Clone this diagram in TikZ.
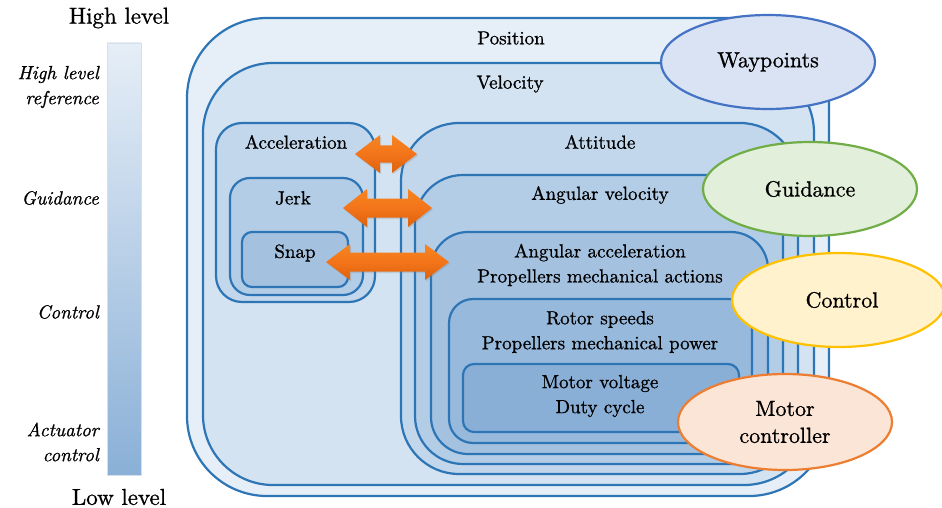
\documentclass[tikz,border=0pt]{standalone}
\usepackage{fontspec}
% the 10pt design of Latin Modern, scaled up and slightly emboldened
\setmainfont{lmroman10}[Extension=.otf, UprightFont=*-regular, ItalicFont=*-italic,
  BoldFont=*-bold, FakeBold=0.9]
\usetikzlibrary{shapes.geometric,shadows,calc}

% palette
\definecolor{edgeblue}{HTML}{2E75B6}
\definecolor{fPos}{HTML}{E6EFF8}
\definecolor{fVel}{HTML}{D3E3F1}
\definecolor{fL1}{HTML}{C2D7EC}
\definecolor{fL2}{HTML}{B3CDE6}
\definecolor{fL3}{HTML}{A4C2E0}
\definecolor{fL4}{HTML}{97B9DC}
\definecolor{fL5}{HTML}{8AAFD7}
\definecolor{barTop}{HTML}{E6EEF7}
\definecolor{barBot}{HTML}{8AB0D7}
\definecolor{barEdge}{HTML}{D5DFEA}
\definecolor{wayFill}{HTML}{DAE3F3}
\definecolor{wayEdge}{HTML}{4472C4}
\definecolor{guiFill}{HTML}{E2EFDA}
\definecolor{guiEdge}{HTML}{70AD47}
\definecolor{conFill}{HTML}{FFF2CC}
\definecolor{conEdge}{HTML}{FFC000}
\definecolor{motFill}{HTML}{FBE5D6}
\definecolor{motEdge}{HTML}{ED7D31}
\definecolor{orTop}{HTML}{F7861F}
\definecolor{orMid}{HTML}{F3741A}
\definecolor{orBot}{HTML}{DC620C}

% double-headed block arrow between two tip coordinates
% #1 left tip, #2 right tip, #3 head half-height, #4 shaft half-height, #5 head length
\newcommand{\orangearrow}[5]{%
  \path[top color=orTop, bottom color=orBot, middle color=orMid,
        drop shadow={opacity=0.25, shadow xshift=1pt, shadow yshift=-1.5pt}]
    (#1) -- ($(#1)+(#5,-#3)$) -- ($(#1)+(#5,-#4)$) -- ($(#2)+(-#5,-#4)$)
    -- ($(#2)+(-#5,-#3)$) -- (#2) -- ($(#2)+(-#5,#3)$) -- ($(#2)+(-#5,#4)$)
    -- ($(#1)+(#5,#4)$) -- ($(#1)+(#5,#3)$) -- cycle;}

\begin{document}
\begin{tikzpicture}[x=1pt,y=-1pt,
  layer/.style={draw=edgeblue, line width=2.2pt, inner sep=0pt, outer sep=0pt},
  lbl/.style={font=\fontsize{19}{25}\selectfont, inner sep=0pt, align=center},
  side/.style={font=\fontsize{19}{25}\selectfont\itshape, inner sep=0pt, align=right, anchor=east},
  endlbl/.style={font=\fontsize{23}{28}\selectfont, inner sep=0pt},
  bubble/.style={ellipse, line width=2.2pt, inner sep=0pt, minimum width=214pt,
                 minimum height=94pt, font=\fontsize{22}{27}\selectfont, align=center}]
\useasboundingbox (0,0) rectangle (942,508);

% level scale on the left
\node[endlbl] (hi) at (119,18) {High level};
\node[endlbl] (lo) at (119,497) {Low level};
\shade[top color=barTop, bottom color=barBot] (107,43) rectangle (141,475);
\draw[barEdge, line width=0.8pt] (107,43) rectangle (141,475);
\node[side] (sHigh) at (99,87) {High level\\reference};
\node[side] (sGui) at (99,198) {Guidance};
\node[side] (sCon) at (99,312) {Control};
\node[side] (sAct) at (99,442) {Actuator\\control};

% nested state boxes
\node[layer, fill=fPos, minimum width=642pt, minimum height=478pt, rounded corners=80pt] (position) at (508,257) {};
\node[layer, fill=fVel, minimum width=611pt, minimum height=422pt, rounded corners=70pt] (velocity) at (508.5,274) {};
\node[layer, fill=fL1, minimum width=159pt, minimum height=179pt, rounded corners=26pt] (accel) at (295.5,212.5) {};
\node[layer, fill=fL2, minimum width=133pt, minimum height=117pt, rounded corners=20pt] (jerk) at (296.5,236.5) {};
\node[layer, fill=fL3, minimum width=106pt, minimum height=55pt, rounded corners=10pt] (snap) at (295,259.5) {};
\node[layer, fill=fL1, minimum width=397pt, minimum height=351pt, rounded corners=58pt] (attitude) at (599.5,298.5) {};
\node[layer, fill=fL2, minimum width=368pt, minimum height=289pt, rounded corners=48pt] (angvel) at (599,319.5) {};
\node[layer, fill=fL3, minimum width=337pt, minimum height=222pt, rounded corners=37pt] (angacc) at (599.5,343) {};
\node[layer, fill=fL4, minimum width=303pt, minimum height=144pt, rounded corners=24pt] (rotor) at (600.5,371) {};
\node[layer, fill=fL5, minimum width=276pt, minimum height=68pt, rounded corners=11pt] (motor) at (601,398) {};

% box titles
\node[lbl] (tPos) at (511,38) {Position};
\node[lbl] (tVel) at (510,84) {Velocity};
\node[lbl] (tAcc) at (296,142) {Acceleration};
\node[lbl] (tJerk) at (293,198) {Jerk};
\node[lbl] (tSnap) at (295,253) {Snap};
\node[lbl] (tAtt) at (600,142) {Attitude};
\node[lbl] (tAngVel) at (600,195) {Angular velocity};
\node[lbl] (tAngAcc) at (600,265) {Angular acceleration\\Propellers mechanical actions};
\node[lbl] (tRotor) at (600,332) {Rotor speeds\\Propellers mechanical power};
\node[lbl] (tMotor) at (600,396) {Motor voltage\\Duty cycle};

% couplings between translational and rotational chains
\coordinate (a1L) at (355,154); \coordinate (a1R) at (417,154);
\coordinate (a2L) at (343,208); \coordinate (a2R) at (432,208);
\coordinate (a3L) at (326,262); \coordinate (a3R) at (449,262);
\orangearrow{a1L}{a1R}{19}{8.5}{25}
\orangearrow{a2L}{a2R}{19}{9.5}{24}
\orangearrow{a3L}{a3R}{18}{9.5}{24}

% functional layers
\node[bubble, draw=wayEdge, fill=wayFill] (way) at (768,62) {Waypoints};
\node[bubble, draw=guiEdge, fill=guiFill] (gui) at (810,189) {Guidance};
\node[bubble, draw=conEdge, fill=conFill] (con) at (839,300) {\hspace*{6pt}Control};
\node[bubble, draw=motEdge, fill=motFill, minimum height=96pt] (mot) at (785,422) {Motor\\controller};
\end{tikzpicture}
\end{document}
